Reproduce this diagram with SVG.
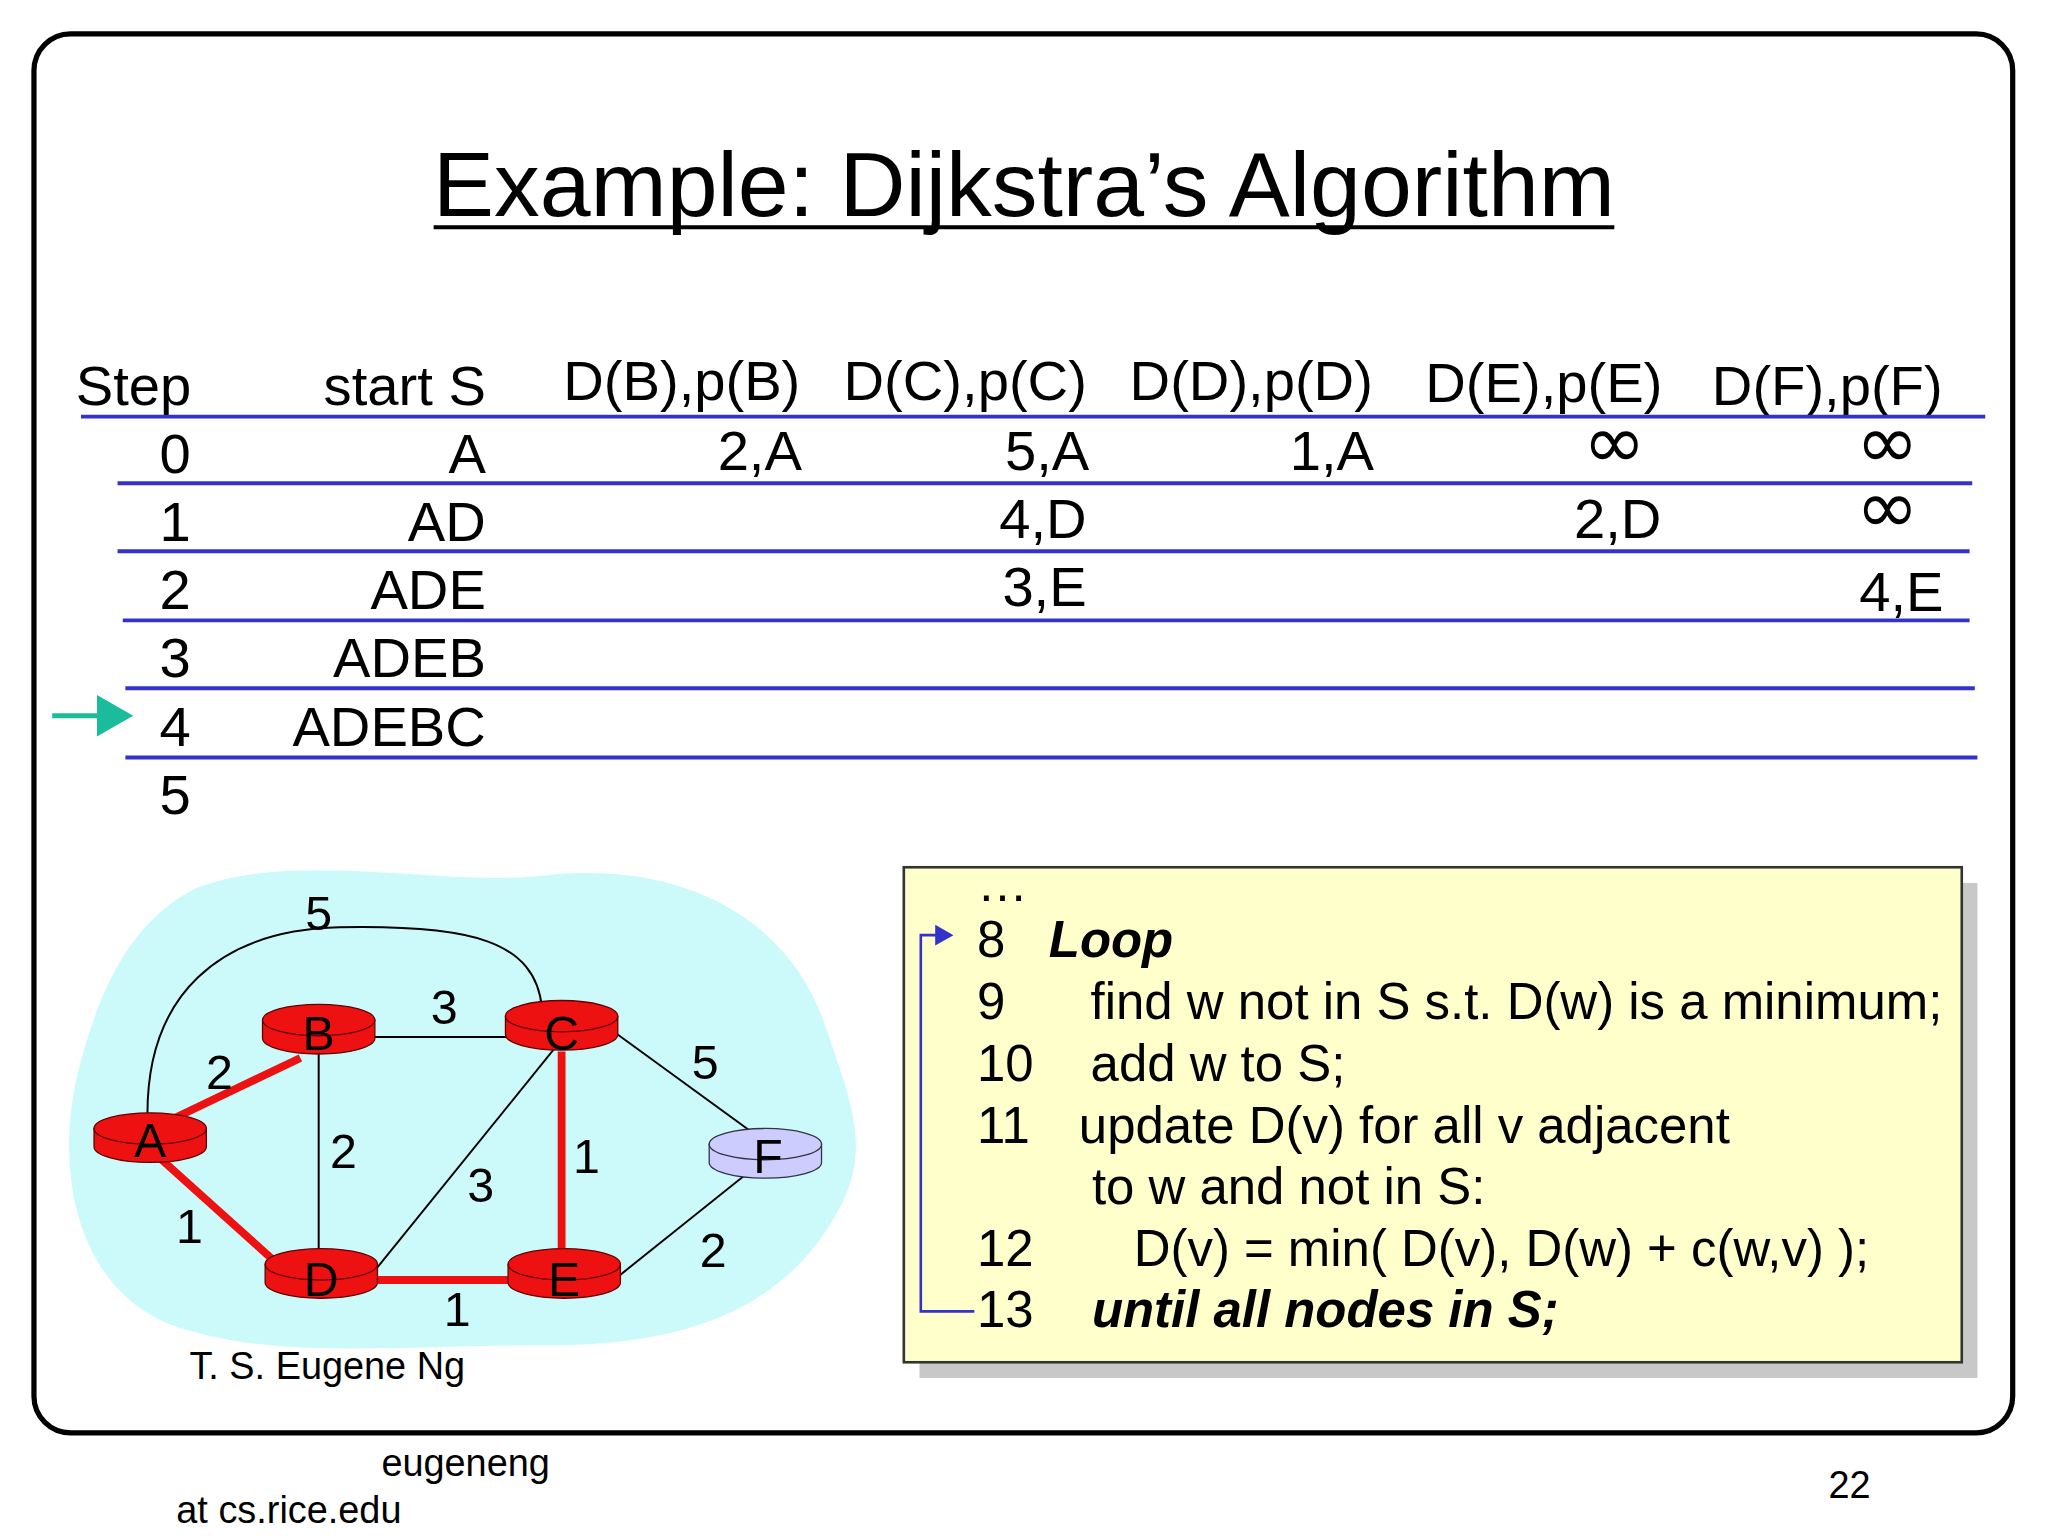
<svg xmlns="http://www.w3.org/2000/svg" width="2048" height="1536" viewBox="0 0 2048 1536">
<defs>
<style>
text{font-family:"Liberation Sans",Arial,sans-serif;fill:#000}
.h{font-size:43px}
.r{font-size:43px;text-anchor:end}
.c{font-size:43px;text-anchor:middle}
.inf{font-family:"DejaVu Sans",sans-serif;font-size:58px;text-anchor:middle}
.bl{stroke:#3333cc;stroke-width:3}
.w{font-size:39px}
.e{stroke:#000;stroke-width:1.5;fill:none}
.re{stroke:#ee1111;stroke-width:6;fill:none}
.lab{font-size:37px;text-anchor:middle}
.bi{font-weight:bold;font-style:italic}
</style>
<marker id="ga" markerWidth="8" markerHeight="8" refX="6" refY="4" orient="auto" markerUnits="strokeWidth"><path d="M0,0L7,4L0,8z" fill="#1abc9c"/></marker>
<marker id="ba" markerWidth="8" markerHeight="8" refX="6" refY="4" orient="auto" markerUnits="strokeWidth"><path d="M0,0L7,4L0,8z" fill="#3333cc"/></marker>
</defs>
<rect width="2048" height="1536" fill="#fff"/>
<g transform="scale(1.3061)">
<rect x="26" y="26" width="1515" height="1071" rx="28" fill="none" stroke="#000" stroke-width="4"/>
<text x="784" y="165" font-size="70" text-anchor="middle">Example: Dijkstra’s Algorithm</text>
<line x1="332" y1="174" x2="1236" y2="174" stroke="#000" stroke-width="3"/>
<g id="table">
<text class="h" x="58" y="310">Step</text>
<text class="r" x="372" y="310">start S</text>
<text class="c" x="522" y="306">D(B),p(B)</text>
<text class="c" x="739" y="306">D(C),p(C)</text>
<text class="c" x="958" y="306">D(D),p(D)</text>
<text class="c" x="1182" y="308">D(E),p(E)</text>
<text class="c" x="1399" y="310">D(F),p(F)</text>
<line class="bl" x1="62" y1="319" x2="1520" y2="319"/>
<line class="bl" x1="90" y1="370" x2="1510" y2="370"/>
<line class="bl" x1="90" y1="422" x2="1508" y2="422"/>
<line class="bl" x1="94" y1="475" x2="1508" y2="475"/>
<line class="bl" x1="96" y1="527" x2="1512" y2="527"/>
<line class="bl" x1="96" y1="580" x2="1514" y2="580"/>
<text class="c" x="134" y="362">0</text><text class="r" x="372" y="362">A</text>
<text class="r" x="614" y="360">2,A</text><text class="r" x="834" y="360">5,A</text><text class="r" x="1052" y="360">1,A</text>
<text class="inf" x="1236" y="358">∞</text><text class="inf" x="1445" y="358">∞</text>
<text class="c" x="134" y="414">1</text><text class="r" x="372" y="414">AD</text>
<text class="r" x="832" y="412">4,D</text><text class="r" x="1272" y="412">2,D</text>
<text class="inf" x="1445" y="408">∞</text>
<text class="c" x="134" y="466">2</text><text class="r" x="372" y="466">ADE</text>
<text class="r" x="832" y="464">3,E</text><text class="r" x="1488" y="468">4,E</text>
<text class="c" x="134" y="518">3</text><text class="r" x="372" y="518">ADEB</text>
<text class="c" x="134" y="571">4</text><text class="r" x="372" y="571">ADEBC</text>
<text class="c" x="134" y="623">5</text>
<line x1="40" y1="548" x2="98" y2="548" stroke="#1abc9c" stroke-width="4" marker-end="url(#ga)"/>
</g>
<path d="M150,680 C230,650 340,680 420,670 C520,660 600,700 630,780 C650,840 670,880 640,930 C600,1000 530,1030 420,1030 C320,1030 220,1040 150,1020 C60,1000 40,900 60,820 C80,740 110,700 150,680 Z" fill="#ccfafa"/>
<g id="connectors">
<path class="e" d="M113,860 C110,760 170,712 260,710 C360,708 410,720 415,772"/>
<line class="e" x1="244" y1="794" x2="430" y2="794"/>
<line class="e" x1="244" y1="794" x2="244" y2="974"/>
<line class="e" x1="430" y1="796" x2="286" y2="974"/>
<line class="e" x1="470" y1="790" x2="580" y2="870"/>
<line class="e" x1="470" y1="980" x2="570" y2="900"/>
<line class="re" x1="115" y1="865" x2="230" y2="810"/>
<line class="re" x1="115" y1="880" x2="215" y2="970"/>
<line class="re" x1="430" y1="805" x2="430" y2="965"/>
<line class="re" x1="250" y1="980" x2="420" y2="980"/>
</g>
<g class="lbls">
<text class="lab" x="244" y="712">5</text><text class="lab" x="340" y="784">3</text>
<text class="lab" x="168" y="834">2</text><text class="lab" x="540" y="826">5</text>
<text class="lab" x="263" y="894">2</text><text class="lab" x="449" y="898">1</text>
<text class="lab" x="368" y="920">3</text><text class="lab" x="145" y="952">1</text>
<text class="lab" x="546" y="970">2</text><text class="lab" x="350" y="1015">1</text>
</g>
<g id="A"><path d="M72,864v14a43,12 0 0 0 86,0v-14z" fill="#ee1111" stroke="#600" stroke-width="1"/><ellipse cx="115" cy="864" rx="43" ry="12" fill="#ee1111" stroke="#600" stroke-width="1"/><text class="lab" x="115" y="886">A</text></g>
<g id="B"><path d="M201,781v14a43,12 0 0 0 86,0v-14z" fill="#ee1111" stroke="#600" stroke-width="1"/><ellipse cx="244" cy="781" rx="43" ry="12" fill="#ee1111" stroke="#600" stroke-width="1"/><text class="lab" x="244" y="804">B</text></g>
<g id="C"><path d="M387,778v14a43,12 0 0 0 86,0v-14z" fill="#ee1111" stroke="#600" stroke-width="1"/><ellipse cx="430" cy="778" rx="43" ry="12" fill="#ee1111" stroke="#600" stroke-width="1"/><text class="lab" x="430" y="804">C</text></g>
<g id="D"><path d="M203,968v14a43,12 0 0 0 86,0v-14z" fill="#ee1111" stroke="#600" stroke-width="1"/><ellipse cx="246" cy="968" rx="43" ry="12" fill="#ee1111" stroke="#600" stroke-width="1"/><text class="lab" x="246" y="992">D</text></g>
<g id="E"><path d="M389,968v14a43,12 0 0 0 86,0v-14z" fill="#ee1111" stroke="#600" stroke-width="1"/><ellipse cx="432" cy="968" rx="43" ry="12" fill="#ee1111" stroke="#600" stroke-width="1"/><text class="lab" x="432" y="992">E</text></g>
<g id="F"><path d="M543,876v14a43,12 0 0 0 86,0v-14z" fill="#ccccff" stroke="#334" stroke-width="1"/><ellipse cx="586" cy="876" rx="43" ry="12" fill="#ccccff" stroke="#334" stroke-width="1"/><text class="lab" x="588" y="898">F</text></g>
<text x="145" y="1056" font-size="29">T. S. Eugene Ng</text>
<g id="code">
<rect x="704" y="676" width="810" height="379" fill="#c8c8c8"/>
<rect x="692" y="664" width="810" height="379" fill="#ffffcc" stroke="#333" stroke-width="2"/>
<text class="w" x="748" y="690">…</text>
<text class="w" x="748" y="733">8</text><text class="w bi" x="803" y="733">Loop</text>
<text class="w" x="748" y="780">9</text><text class="w" x="835" y="780">find w not in S s.t. D(w) is a minimum;</text>
<text class="w" x="748" y="828">10</text><text class="w" x="835" y="828">add w to S;</text>
<text class="w" x="748" y="875">11</text><text class="w" x="826" y="875">update D(v) for all v adjacent</text>
<text class="w" x="836" y="922">to w and not in S:</text>
<text class="w" x="748" y="969">12</text><text class="w" x="868" y="969">D(v) = min( D(v), D(w) + c(w,v) );</text>
<text class="w" x="748" y="1016">13</text><text class="w bi" x="836" y="1016">until all nodes in S;</text>
<path d="M746,1004H705V716H728" fill="none" stroke="#3333cc" stroke-width="2" marker-end="url(#ba)"/>
</g>
<text x="292" y="1130" font-size="29">eugeneng</text>
<text x="135" y="1166" font-size="29">at cs.rice.edu</text>
<text x="1400" y="1147" font-size="29">22</text>
</g>
</svg>
